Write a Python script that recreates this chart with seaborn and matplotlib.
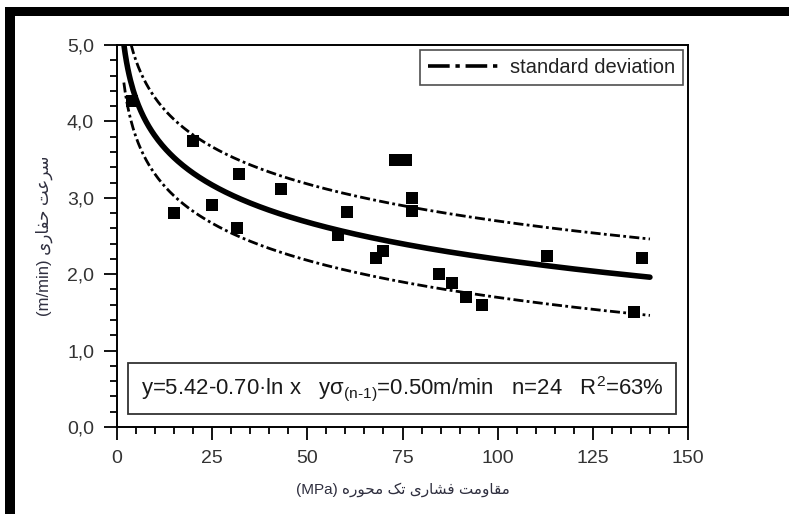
import numpy as np
import pandas as pd
import matplotlib
matplotlib.use("Agg")
import matplotlib.pyplot as plt
import seaborn as sns
from matplotlib.lines import Line2D
from matplotlib.patches import Rectangle
from matplotlib.ticker import MultipleLocator, FuncFormatter

# ---- data ----
ucs_mpa = [4, 15, 20, 25, 32, 31.6, 43, 58, 60.3, 68, 70, 73, 76, 77.6, 77.6,
           84.7, 88, 91.6, 95.8, 113, 135.8, 138]
drill_speed = [4.27, 2.80, 3.74, 2.90, 3.31, 2.60, 3.11, 2.51, 2.81, 2.21, 2.30,
               3.50, 3.50, 3.00, 2.83, 2.00, 1.89, 1.70, 1.60, 2.24, 1.50, 2.21]

# fitted relation printed on the chart: y = a - b ln x, sigma = 0.50
fit_a = 5.42
fit_b = 0.70
fit_sd = 0.50
fit_x_range = [1.8, 140]

x_ticks = [0, 25, 50, 75, 100, 125, 150]
y_ticks = [0.0, 1.0, 2.0, 3.0, 4.0, 5.0]

legend_label = "standard deviation"
eq_text = ("y=5.42-0.70\u00b7ln x   y$\\mathregular{\u03c3_{(n\\text{-}1)}}$=0.50m/min   "
           "n=24   R$\\mathregular{^2}$=63%")
xlabel_fa = "مقاومت فشاری تک محوره"
ylabel_fa = "سرعت حفاری"

# ---- simple Persian shaping (presentation forms, visual order) ----
FORMS = {
    'ا': ('\uFE8D', '\uFE8E', None, None),
    'ت': ('\uFE95', '\uFE96', '\uFE97', '\uFE98'),
    'ح': ('\uFEA1', '\uFEA2', '\uFEA3', '\uFEA4'),
    'ر': ('\uFEAD', '\uFEAE', None, None),
    'س': ('\uFEB1', '\uFEB2', '\uFEB3', '\uFEB4'),
    'ش': ('\uFEB5', '\uFEB6', '\uFEB7', '\uFEB8'),
    'ع': ('\uFEC9', '\uFECA', '\uFECB', '\uFECC'),
    'ف': ('\uFED1', '\uFED2', '\uFED3', '\uFED4'),
    'ق': ('\uFED5', '\uFED6', '\uFED7', '\uFED8'),
    'م': ('\uFEE1', '\uFEE2', '\uFEE3', '\uFEE4'),
    'ه': ('\uFEE9', '\uFEEA', '\uFEEB', '\uFEEC'),
    'و': ('\uFEED', '\uFEEE', None, None),
    'ی': ('\uFBFC', '\uFBFD', '\uFBFE', '\uFBFF'),
    'ک': ('\uFB8E', '\uFB8F', '\uFB90', '\uFB91'),
}


def shape(text):
    out = []
    n = len(text)
    for i, ch in enumerate(text):
        if ch not in FORMS:
            out.append(ch)
            continue
        iso, fin, ini, med = FORMS[ch]
        prev = text[i - 1] if i > 0 else None
        nxt = text[i + 1] if i < n - 1 else None
        jp = prev in FORMS and FORMS[prev][2] is not None
        jn = nxt in FORMS and ini is not None
        if jp and jn:
            out.append(med)
        elif jp:
            out.append(fin)
        elif jn:
            out.append(ini)
        else:
            out.append(iso)
    return "".join(out)[::-1]


# ---- style ----
sns.set_style("ticks")
plt.rcParams['font.family'] = ['Liberation Sans', 'DejaVu Sans']
plt.rcParams['mathtext.fontset'] = 'custom'
plt.rcParams['mathtext.rm'] = 'Liberation Sans'
plt.rcParams['mathtext.it'] = 'Liberation Sans:italic'
plt.rcParams['mathtext.bf'] = 'Liberation Sans:bold'

W, H = 789, 514
fig = plt.figure(figsize=(W / 100, H / 100), dpi=100)
fig.patch.set_facecolor('white')
ax = fig.add_axes([117 / W, 1 - 427 / H, (688 - 117) / W, (427 - 45) / H])

# fitted curves
xf = np.linspace(fit_x_range[0], fit_x_range[1], 400)
yf = fit_a - fit_b * np.log(xf)
sns.lineplot(x=xf, y=yf, ax=ax, color='black', lw=4, solid_capstyle='round')
for sgn in (1, -1):
    sns.lineplot(x=xf, y=yf + sgn * fit_sd, ax=ax, color='black', lw=2,
                 dashes=False, linestyle=(0, (3.6, 1.2, 1.0, 1.2)))

df = pd.DataFrame({"ucs": ucs_mpa, "speed": drill_speed})
sns.scatterplot(data=df, x="ucs", y="speed", ax=ax, marker='s', s=72,
                color='black', linewidth=0, zorder=5)

ax.set_xlim(x_ticks[0], x_ticks[-1])
ax.set_ylim(y_ticks[0], y_ticks[-1])
ax.set_xticks(x_ticks)
ax.set_yticks(y_ticks)
ax.xaxis.set_minor_locator(MultipleLocator(5))
ax.yaxis.set_minor_locator(MultipleLocator(0.2))
ax.yaxis.set_major_formatter(FuncFormatter(lambda v, p: f"{v:.1f}".replace('.', ',')))
ax.tick_params(which='major', direction='out', length=9.5, width=1.3,
               labelsize=14, labelcolor='#333333', color='black', pad=7)
ax.tick_params(which='minor', direction='out', length=5, width=1.3, color='black')
ax.tick_params(top=False, right=False, which='both')
for s in ax.spines.values():
    s.set_visible(True)
    s.set_color('black')
    s.set_linewidth(1.4)

ax.set_xlabel("(MPa) " + shape(xlabel_fa), fontsize=11, color='#2f2f3f', labelpad=11)
ax.set_ylabel("(m/min) " + shape(ylabel_fa), fontsize=12, color='#2f2f3f', labelpad=10)

# legend
h = Line2D([], [], color='black', lw=2.6, linestyle=(0, (6, 1.6, 1.2, 1.6)))
leg = ax.legend([h], [legend_label], loc='upper right', bbox_to_anchor=(0.991, 0.987),
                borderaxespad=0, frameon=True, fancybox=False, fontsize=14.5,
                handlelength=3.6, handletextpad=0.45, borderpad=0.4)
leg.get_frame().set_edgecolor('#222222')
leg.get_frame().set_linewidth(1.2)
for t in leg.get_texts():
    t.set_color('#222222')

# equation box
x0, x1 = (128 - 117) / 571, (676 - 117) / 571
y0, y1 = (427 - 414) / 382, (427 - 363) / 382
ax.add_patch(Rectangle((x0, y0), x1 - x0, y1 - y0, transform=ax.transAxes,
                       fill=True, facecolor='white', edgecolor='#333333', lw=1.3, zorder=6))
ax.text((x0 + x1) / 2, (y0 + y1) / 2, eq_text, transform=ax.transAxes,
        ha='center', va='center', fontsize=15.9, color='#1a1a1a', zorder=7)

# scanned-page frame
fig.add_artist(Rectangle((5 / W, 1 - 16 / H), 1, 9 / H, transform=fig.transFigure,
                         facecolor='black', edgecolor='none'))
fig.add_artist(Rectangle((5 / W, 0), 10 / W, 1 - 7 / H, transform=fig.transFigure,
                         facecolor='black', edgecolor='none'))

fig.savefig("out.png", dpi=100)
